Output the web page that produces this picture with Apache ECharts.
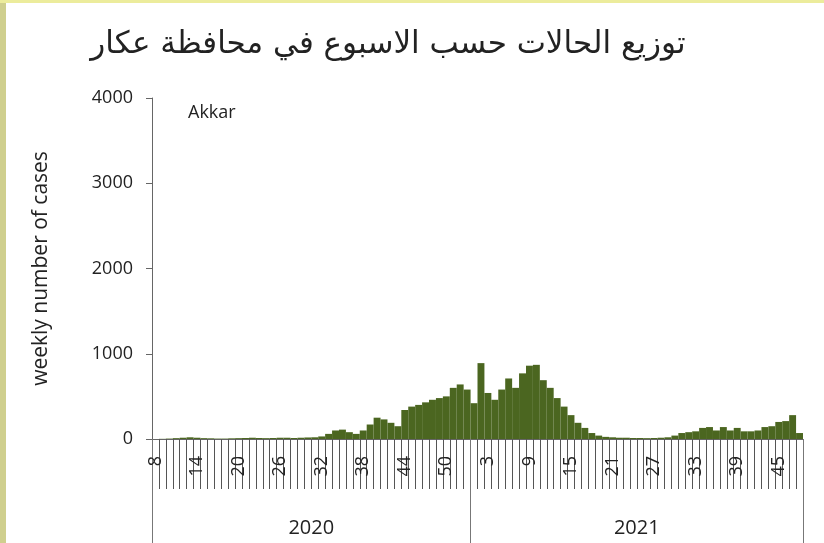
<!DOCTYPE html>
<html>
<head>
<meta charset="utf-8">
<script src="https://cdn.jsdelivr.net/npm/echarts@6/dist/echarts.min.js"></script>
<style>
html,body{margin:0;padding:0;background:#fff;}
#chart{width:824px;height:543px;}
</style>
</head>
<body>
<div id="chart"></div>
<script>
// ISO week numbers shown on the axis
var weeks2020 = [8,9,10,11,12,13,14,15,16,17,18,19,20,21,22,23,24,25,26,27,28,29,30,31,32,33,34,35,36,37,38,39,40,41,42,43,44,45,46,47,48,49,50,51,52,53];
var weeks2021 = [1,2,3,4,5,6,7,8,9,10,11,12,13,14,15,16,17,18,19,20,21,22,23,24,25,26,27,28,29,30,31,32,33,34,35,36,37,38,39,40,41,42,43,44,45,46,47,48];
// weekly number of cases
var cases2020 = [0,2,5,10,15,20,15,10,8,5,5,8,10,12,15,12,10,12,15,15,12,15,18,20,30,60,100,110,80,60,100,170,250,230,190,150,340,380,400,430,460,480,500,600,640,580];
var cases2021 = [420,890,540,460,580,710,600,770,860,870,690,600,480,380,280,190,130,70,40,25,20,15,15,12,12,10,12,15,20,40,70,80,90,130,140,100,140,100,130,90,90,100,140,150,200,210,280,70];
var years = ['2020','2021'];
var titleText = 'توزيع الحالات حسب الاسبوع في محافظة عكار';
var regionName = 'Akkar';
var yTitle = 'weekly number of cases';

var categories = weeks2020.map(String).concat(weeks2021.map(String));
var values = cases2020.concat(cases2021);
var n2020 = weeks2020.length;
var nAll = categories.length;

var chart = echarts.init(document.getElementById('chart'), null, {renderer:'canvas'});
var font = '"Open Sans", "Liberation Sans", sans-serif';
chart.setOption({
  animation:false,
  backgroundColor:'#ffffff',
  grid:{left:152, right:21, top:98, bottom:104, containLabel:false},
  graphic:[
    {type:'rect', shape:{x:0,y:0,width:6,height:543}, style:{fill:'#cfcf8e'}},
    {type:'rect', shape:{x:0,y:0,width:824,height:3}, style:{fill:'#ecec9c'}},
    {type:'text', x:388, y:45, style:{text:titleText, font:'31px "DejaVu Sans"', fill:'#222', textAlign:'center', textVerticalAlign:'middle'}},
    {type:'text', x:188, y:113, style:{text:regionName, font:'18px ' + font, fill:'#222', textAlign:'left', textVerticalAlign:'middle'}}
  ],
  xAxis:[
    {
      type:'category', data:categories, position:'bottom', boundaryGap:true,
      axisLine:{show:true, lineStyle:{color:'#666', width:1}},
      axisTick:{show:true, interval:0, alignWithLabel:false, length:50, lineStyle:{color:'#555', width:1}},
      axisLabel:{interval:5, rotate:90, margin:17, fontSize:18, color:'#222', fontFamily:font},
      splitLine:{show:false}
    },
    {
      type:'value', min:0, max:nAll, position:'bottom',
      axisLine:{show:false},
      axisTick:{show:true, customValues:[0, n2020, nAll], length:104, lineStyle:{color:'#777', width:1}},
      axisLabel:{show:true, customValues:[n2020/2, (n2020+nAll)/2], margin:79, fontSize:20, color:'#222', fontFamily:font,
        formatter:function(v){ return v < n2020 ? years[0] : years[1]; }},
      splitLine:{show:false}
    }
  ],
  yAxis:{
    type:'value', min:0, max:4000, interval:1000,
    name:yTitle, nameLocation:'middle', nameRotate:90, nameGap:100,
    nameTextStyle:{fontSize:21, color:'#222', fontFamily:font},
    axisLine:{show:true, lineStyle:{color:'#666', width:1}},
    axisTick:{show:true, length:6, lineStyle:{color:'#666'}},
    axisLabel:{fontSize:18, color:'#222', margin:19, fontFamily:font, formatter:function(v){ return String(v); }},
    splitLine:{show:false}
  },
  series:[{
    type:'bar', xAxisIndex:0, data:values, barCategoryGap:'0%',
    itemStyle:{color:'#4b6620'}
  }]
});
</script>
</body>
</html>
